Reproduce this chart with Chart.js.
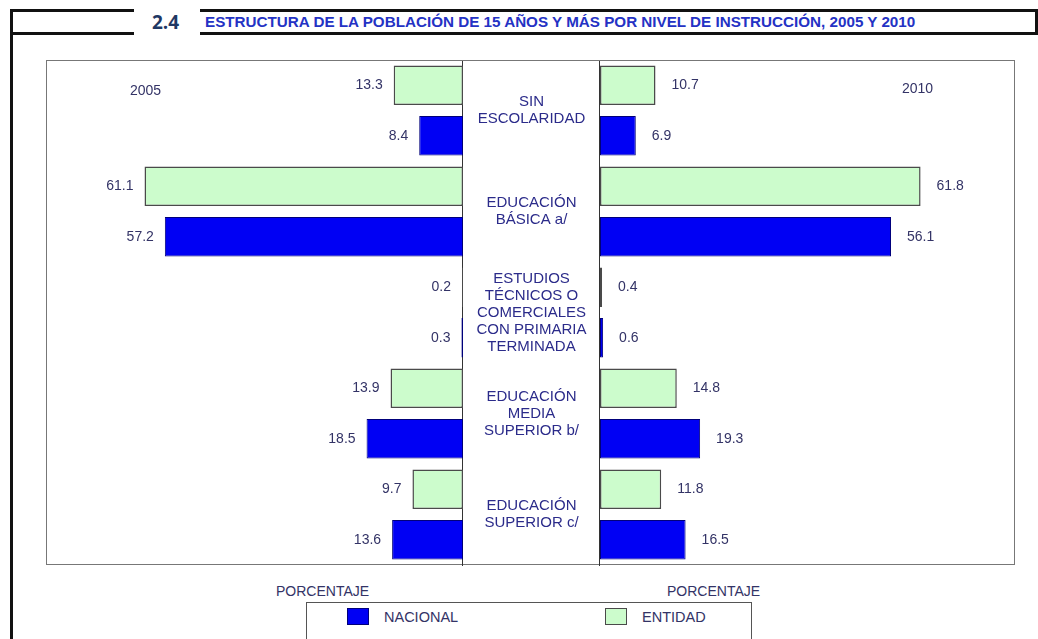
<!DOCTYPE html>
<html lang="es">
<head>
<meta charset="utf-8">
<title>Estructura de la población de 15 años y más por nivel de instrucción</title>
<script src="https://cdn.jsdelivr.net/npm/chart.js@4"></script>
<style>
    body { margin: 0; background: #fff; font-family: Arial, "Liberation Sans", sans-serif; }
    #page { position: relative; width: 1038px; height: 639px; overflow: hidden; background: #fff; }
    .rule { position: absolute; background: #111; }
    #num { position: absolute; left: 152px; top: 9px; font: bold 19px "Open Sans", Arial, sans-serif; color: #1f3864; }
    #titulo { position: absolute; left: 205px; top: 13px; font: bold 15px Arial, sans-serif; color: #2432c4; white-space: nowrap;
              transform: scaleX(1.014); transform-origin: left center; }
    #marco { position: absolute; left: 46px; top: 60px; width: 967px; height: 503px; border: 1.5px solid #777; }
    #columna { position: absolute; left: 462px; top: 61px; width: 136px; height: 505px; border-left: 1.5px solid #333; border-right: 1.5px solid #333; }
    canvas { position: absolute; }
    #chartIzq { left: 46px; top: 60px; }
    #chartDer { left: 600px; top: 60px; }
    .texto { position: absolute; font-size: 14px; color: #333366; white-space: nowrap; }
    #leyenda { position: absolute; left: 306px; top: 602px; width: 444px; height: 60px; border: 1.5px solid #555; }
    .item { position: absolute; top: 5px; font-size: 14.5px; color: #333366; line-height: 18px; }
    .item span { display: inline-block; width: 22px; height: 17px; vertical-align: top; margin-right: 15px; box-sizing: border-box; }
</style>
</head>
<body>
<div id="page">
    <div class="rule" style="left:10px; top:9px; width:124px; height:3px;"></div>
    <div class="rule" style="left:10px; top:32px; width:124px; height:3px;"></div>
    <div class="rule" style="left:200px; top:9px; width:838px; height:3px;"></div>
    <div class="rule" style="left:200px; top:32px; width:838px; height:3px;"></div>
    <div class="rule" style="left:10px; top:9px; width:3px; height:630px;"></div>
    <div class="rule" style="left:1035px; top:9px; width:3px; height:26px;"></div>
    <div id="num">2.4</div>
    <div id="titulo">ESTRUCTURA DE LA POBLACIÓN DE 15 AÑOS Y MÁS POR NIVEL DE INSTRUCCIÓN, 2005 Y 2010</div>

    <div id="marco"></div>
    <div id="columna"></div>
    <canvas id="chartIzq" width="554" height="505"></canvas>
    <canvas id="chartDer" width="415" height="505"></canvas>

    <div class="texto" style="left:130px; top:82px;">2005</div>
    <div class="texto" style="left:902px; top:80px;">2010</div>
    <div class="texto" style="left:276px; top:583px;">PORCENTAJE</div>
    <div class="texto" style="left:667px; top:583px;">PORCENTAJE</div>

    <div id="leyenda"></div>
</div>

<script>
// Niveles de instrucción (cada renglón es una línea del texto central)
const niveles = [
    ['SIN', 'ESCOLARIDAD'],
    ['EDUCACIÓN', 'BÁSICA a/'],
    ['ESTUDIOS', 'TÉCNICOS O', 'COMERCIALES', 'CON PRIMARIA', 'TERMINADA'],
    ['EDUCACIÓN', 'MEDIA', 'SUPERIOR b/'],
    ['EDUCACIÓN', 'SUPERIOR c/']
];

// Porcentajes 2005
const entidad2005 = [13.3, 61.1, 0.2, 13.9, 9.7];
const nacional2005 = [8.4, 57.2, 0.3, 18.5, 13.6];

// Porcentajes 2010
const entidad2010 = [10.7, 61.8, 0.4, 14.8, 11.8];
const nacional2010 = [6.9, 56.1, 0.6, 19.3, 16.5];

const escalaMax = 80;

const estilos = {
    NACIONAL: { backgroundColor: '#0000f4', borderColor: '#00007a', borderWidth: 1 },
    ENTIDAD: { backgroundColor: '#ccfccc', borderColor: '#4a4a4a', borderWidth: 1.5 }
};

// Etiquetas con el valor al final de cada barra
const etiquetasValor = {
    id: 'etiquetasValor',
    afterDatasetsDraw(chart, args, opts) {
        const ctx = chart.ctx;
        ctx.save();
        ctx.font = '14px Arial, sans-serif';
        ctx.fillStyle = '#333366';
        ctx.textBaseline = 'middle';
        chart.data.datasets.forEach((ds, i) => {
            chart.getDatasetMeta(i).data.forEach((bar, j) => {
                const texto = ds.data[j].toFixed(1);
                if (opts.lado === 'izq') {
                    ctx.textAlign = 'right';
                    ctx.fillText(texto, bar.x - 11, bar.y);
                } else {
                    ctx.textAlign = 'left';
                    ctx.fillText(texto, bar.x + 16, bar.y);
                }
            });
        });
        ctx.restore();
    }
};

// Texto de los niveles en la columna central, a la derecha del área de la gráfica
const textoCentral = {
    id: 'textoCentral',
    afterDraw(chart) {
        const ctx = chart.ctx;
        const yScale = chart.scales.y;
        const cx = chart.chartArea.right + 68.5;
        ctx.save();
        ctx.font = '15px Arial, sans-serif';
        ctx.fillStyle = '#2b2b8a';
        ctx.textAlign = 'center';
        ctx.textBaseline = 'middle';
        chart.data.labels.forEach((lineas, i) => {
            const yc = yScale.getPixelForTick(i);
            const alto = 17;
            lineas.forEach((linea, k) => {
                ctx.fillText(linea, cx, yc + (k - (lineas.length - 1) / 2) * alto);
            });
        });
        ctx.restore();
    }
};

function dataset(label, data) {
    return Object.assign({ label: label, data: data, borderSkipped: false }, estilos[label]);
}

function opciones(lado, reverso, padDer) {
    return {
        indexAxis: 'y',
        responsive: false,
        animation: false,
        layout: { padding: { left: 0, right: padDer, top: 0, bottom: 0 } },
        datasets: { bar: { categoryPercentage: 1, barPercentage: 0.78 } },
        scales: {
            x: { min: 0, max: escalaMax, reverse: reverso, display: false },
            y: { display: false }
        },
        plugins: {
            legend: { display: false },
            tooltip: { enabled: false },
            etiquetasValor: { lado: lado }
        }
    };
}

document.addEventListener('DOMContentLoaded', function () {
    // 2005: barras hacia la izquierda
    new Chart(document.getElementById('chartIzq'), {
        type: 'bar',
        data: {
            labels: niveles,
            datasets: [dataset('ENTIDAD', entidad2005), dataset('NACIONAL', nacional2005)]
        },
        options: opciones('izq', true, 137),
        plugins: [etiquetasValor, textoCentral]
    });

    // 2010: barras hacia la derecha
    new Chart(document.getElementById('chartDer'), {
        type: 'bar',
        data: {
            labels: niveles,
            datasets: [dataset('ENTIDAD', entidad2010), dataset('NACIONAL', nacional2010)]
        },
        options: opciones('der', false, 0),
        plugins: [etiquetasValor]
    });

    // Leyenda
    const leyenda = document.getElementById('leyenda');
    [['NACIONAL', 40], ['ENTIDAD', 298]].forEach(([nombre, x]) => {
        const item = document.createElement('div');
        item.className = 'item';
        item.style.left = x + 'px';
        const cuadro = document.createElement('span');
        cuadro.style.background = estilos[nombre].backgroundColor;
        cuadro.style.border = '1.5px solid ' + estilos[nombre].borderColor;
        item.appendChild(cuadro);
        item.appendChild(document.createTextNode(nombre));
        leyenda.appendChild(item);
    });
});
</script>
</body>
</html>
